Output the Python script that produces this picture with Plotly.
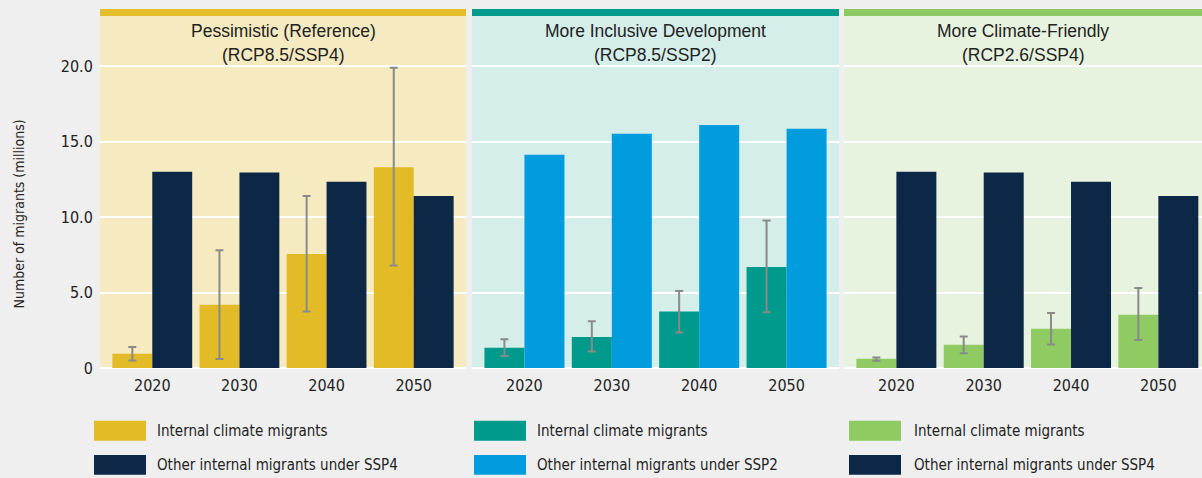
import plotly.graph_objects as go
from plotly.subplots import make_subplots

# ---------------- data ----------------
years = ["2020", "2030", "2040", "2050"]

pess_climate = [0.95, 4.2, 7.55, 13.3]
pess_climate_hi = [1.4, 7.8, 11.4, 19.9]
pess_climate_lo = [0.5, 0.6, 3.75, 6.8]
ssp4_other = [13.0, 12.95, 12.35, 11.4]

incl_climate = [1.35, 2.05, 3.75, 6.7]
incl_climate_hi = [1.9, 3.1, 5.1, 9.78]
incl_climate_lo = [0.8, 1.1, 2.35, 3.7]
ssp2_other = [14.13, 15.52, 16.11, 15.85]

clim_climate = [0.62, 1.54, 2.6, 3.53]
clim_climate_hi = [0.7, 2.09, 3.64, 5.3]
clim_climate_lo = [0.48, 0.97, 1.56, 1.85]

panel_titles = [
    ("Pessimistic (Reference)", "(RCP8.5/SSP4)"),
    ("More Inclusive Development", "(RCP8.5/SSP2)"),
    ("More Climate-Friendly", "(RCP2.6/SSP4)"),
]
legend_labels = [
    ("Internal climate migrants", "Other internal migrants under SSP4"),
    ("Internal climate migrants", "Other internal migrants under SSP2"),
    ("Internal climate migrants", "Other internal migrants under SSP4"),
]
y_tickvals = [0, 5, 10, 15, 20]
y_ticktext = ["0", "5.0", "10.0", "15.0", "20.0"]
y_title = "Number of migrants (millions)"

# ---------------- style ----------------
W, H = 1202, 478
ML, MR, MT, MB = 100, 0, 16, 110
PW = W - ML - MR
PH = H - MT - MB

YELLOW = "#E2BB26"
NAVY = "#0D2847"
TEAL = "#009A8C"
BLUE = "#009CDE"
GREEN = "#8FCA62"
BG = ["#F6EBC0", "#D5EEEA", "#E7F3DF"]
BAND = ["#E4BD2B", "#009A8C", "#8DC963"]
ERR = "#8A8A8A"
TXT = "#222222"
COND = ("Liberation Sans Narrow, DejaVu Sans Condensed, Roboto Condensed, "
        "Arial Narrow, sans-serif")
REG = "Liberation Sans, Arial, sans-serif"

def px_x(p):
    return (p - ML) / PW

def px_y(p):
    return (H - MB - p) / PH

domains = [
    [px_x(100), px_x(466)],
    [px_x(472), px_x(839)],
    [px_x(844), 1.0],
]
xranges = [[-0.6, 3.6], [-0.6, 3.6], [-0.6, 3.5]]

series = [
    (pess_climate, pess_climate_hi, pess_climate_lo, YELLOW, ssp4_other, NAVY),
    (incl_climate, incl_climate_hi, incl_climate_lo, TEAL, ssp2_other, BLUE),
    (clim_climate, clim_climate_hi, clim_climate_lo, GREEN, ssp4_other, NAVY),
]

fig = make_subplots(rows=1, cols=3, shared_yaxes=True, horizontal_spacing=0.005)

for i, (cv, hi, lo, ccol, ov, ocol) in enumerate(series):
    col = i + 1
    fig.add_trace(go.Bar(
        x=years, y=cv, marker=dict(color=ccol, line=dict(width=0)),
        error_y=dict(type="data", symmetric=False,
                     array=[h - v for h, v in zip(hi, cv)],
                     arrayminus=[v - l for v, l in zip(cv, lo)],
                     color=ERR, thickness=2, width=4),
        showlegend=False, hoverinfo="skip", offsetgroup="a"), row=1, col=col)
    fig.add_trace(go.Bar(
        x=years, y=ov, marker=dict(color=ocol, line=dict(width=0)),
        showlegend=False, hoverinfo="skip", offsetgroup="b"), row=1, col=col)

    xa = "xaxis" if i == 0 else f"xaxis{col}"
    ya = "yaxis" if i == 0 else f"yaxis{col}"
    fig.layout[xa].update(
        domain=domains[i], range=xranges[i], type="category",
        showgrid=False, zeroline=False, showline=False,
        ticks="outside", ticklen=3, tickcolor="rgba(0,0,0,0)",
        tickfont=dict(family=COND, size=16, color=TXT))
    fig.layout[ya].update(
        range=[0, 23.33], tickvals=y_tickvals, ticktext=y_ticktext,
        showgrid=True, gridcolor="white", gridwidth=1.5,
        zeroline=True, zerolinecolor="white", zerolinewidth=1.5,
        showline=False, ticks="outside" if i == 0 else "", ticklen=3,
        tickcolor="rgba(0,0,0,0)",
        tickfont=dict(family=COND, size=16, color=TXT),
        showticklabels=(i == 0))

    xref = "x domain" if i == 0 else f"x{col} domain"
    yref = "y domain" if i == 0 else f"y{col} domain"
    fig.add_shape(type="rect", xref=xref, yref=yref, x0=0, x1=1, y0=0, y1=1,
                  fillcolor=BG[i], line=dict(width=0), layer="below")
    fig.add_shape(type="rect", xref=xref, yref="paper", x0=0, x1=1,
                  y0=1.0, y1=px_y(9), fillcolor=BAND[i], line=dict(width=0),
                  layer="below")
    fig.add_annotation(xref=xref, yref="paper", x=0.5, y=px_y(31),
                       text=panel_titles[i][0], showarrow=False,
                       xanchor="center", yanchor="middle",
                       font=dict(family=REG, size=17.5, color=TXT))
    fig.add_annotation(xref=xref, yref="paper", x=0.5, y=px_y(54.5),
                       text=panel_titles[i][1], showarrow=False,
                       xanchor="center", yanchor="middle",
                       font=dict(family=REG, size=17.5, color=TXT))

fig.add_annotation(xref="paper", yref="paper", x=px_x(18), y=px_y(214.5),
                   text=y_title, textangle=-90, showarrow=False,
                   xanchor="center", yanchor="middle",
                   font=dict(family=COND, size=14, color=TXT))

legend_cols = [(94, 157), (474, 537), (849, 914)]
row_y = [(420.7, 440.7), (455, 474.7)]
for i, (sx, tx) in enumerate(legend_cols):
    colors = [series[i][3], series[i][5]]
    for r in range(2):
        y0, y1 = row_y[r]
        fig.add_shape(type="rect", xref="paper", yref="paper",
                      x0=px_x(sx), x1=px_x(sx + 52), y0=px_y(y1), y1=px_y(y0),
                      fillcolor=colors[r], line=dict(width=0))
        fig.add_annotation(xref="paper", yref="paper", x=px_x(tx) - 0.002,
                           y=px_y((y0 + y1) / 2), text=legend_labels[i][r],
                           showarrow=False, xanchor="left", yanchor="middle",
                           font=dict(family=COND, size=15, color=TXT))

fig.update_layout(
    width=W, height=H,
    margin=dict(l=ML, r=MR, t=MT, b=MB),
    paper_bgcolor="#EFEFEF", plot_bgcolor="rgba(0,0,0,0)",
    barmode="group", bargap=0.084, bargroupgap=0,
    showlegend=False,
)

fig.write_html(
    "out.html",
    config={"displayModeBar": False},
    post_script="document.body.style.margin='0';"
                "document.body.style.background='#EFEFEF';"
                "document.body.style.overflow='hidden';",
)
